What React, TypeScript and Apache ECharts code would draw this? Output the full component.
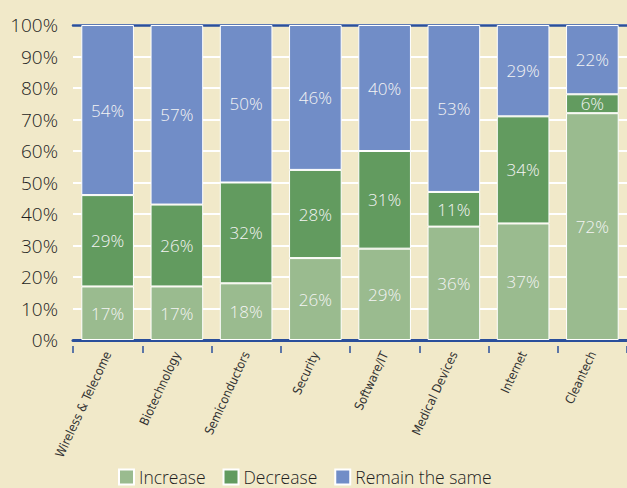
import React, { useEffect, useRef } from "react";
import * as echarts from "echarts";

const categories = [
  "Wireless & Telecome",
  "Biotechnology",
  "Semiconductors",
  "Security",
  "Software/IT",
  "Medical Devices",
  "Internet",
  "Cleantech",
];
const increase = [17, 17, 18, 26, 29, 36, 37, 72];
const decrease = [29, 26, 32, 28, 31, 11, 34, 6];
const remain = [54, 57, 50, 46, 40, 53, 29, 22];
const seriesNames = ["Increase", "Decrease", "Remain the same"];
const colors = ["#9abb8f", "#629b5f", "#718dc7"];

const mainFont = "Open Sans, Liberation Sans, sans-serif";

export default function App() {
  const ref = useRef<HTMLDivElement>(null);
  useEffect(() => {
    if (!ref.current) return;
    const chart = echarts.init(ref.current, undefined, { renderer: "svg" });
    const values = [increase, decrease, remain];
    chart.setOption({
      animation: false,
      backgroundColor: "#f1e9c9",
      textStyle: { fontFamily: mainFont },
      grid: { left: 73, right: -2, top: 25, bottom: 148, containLabel: false },
      legend: {
        bottom: -3,
        left: 113,
        itemWidth: 15,
        itemHeight: 15,
        itemGap: 17,
        icon: "rect",
        textStyle: { fontSize: 17.5, color: "#1e1e1e", fontFamily: mainFont, fontWeight: 300 },
        data: seriesNames,
      },
      xAxis: [
        {
          type: "category",
          data: categories,
          position: "bottom",
          axisLine: { show: true, lineStyle: { color: "#2a4f9b", width: 3 } },
          axisTick: { show: false },
          axisLabel: { show: false },
        },
        {
          type: "category",
          data: categories,
          position: "bottom",
          offset: 6,
          axisLine: { show: false },
          axisTick: { show: true, length: 7, lineStyle: { color: "#2a4f9b", width: 1.5 } },
          axisLabel: {
            show: true,
            rotate: 65,
            fontSize: 12.5,
            color: "#333",
            margin: 6,
            interval: 0,
            fontFamily: "DejaVu Sans Condensed, Liberation Sans Narrow, sans-serif",
          },
        },
        {
          type: "category",
          data: categories,
          position: "top",
          axisLine: { show: true, lineStyle: { color: "#2a4f9b", width: 2.5 } },
          axisTick: { show: false },
          axisLabel: { show: false },
        },
      ],
      yAxis: {
        type: "value",
        min: 0,
        max: 100,
        interval: 10,
        axisLine: { show: false },
        axisTick: { show: false },
        splitLine: { show: true, lineStyle: { color: "#ffffff", width: 2 } },
        axisLabel: {
          formatter: "{value}%",
          fontSize: 19,
          fontWeight: 300,
          color: "#1e1e1e",
          margin: 15,
        },
      },
      series: seriesNames.map((name, i) => ({
        name,
        type: "bar",
        stack: "total",
        xAxisIndex: 0,
        barWidth: "76%",
        data: values[i],
        itemStyle: { color: colors[i], borderColor: "#ffffff", borderWidth: 1 },
        label: {
          show: true,
          position: "inside",
          formatter: "{c}%",
          color: "#f4f4f4",
          fontSize: 17,
          fontWeight: 300,
        },
      })),
    });
    return () => chart.dispose();
  }, []);
  return <div ref={ref} style={{ width: 627, height: 488, position: "absolute", left: 0, top: 0 }} />;
}
